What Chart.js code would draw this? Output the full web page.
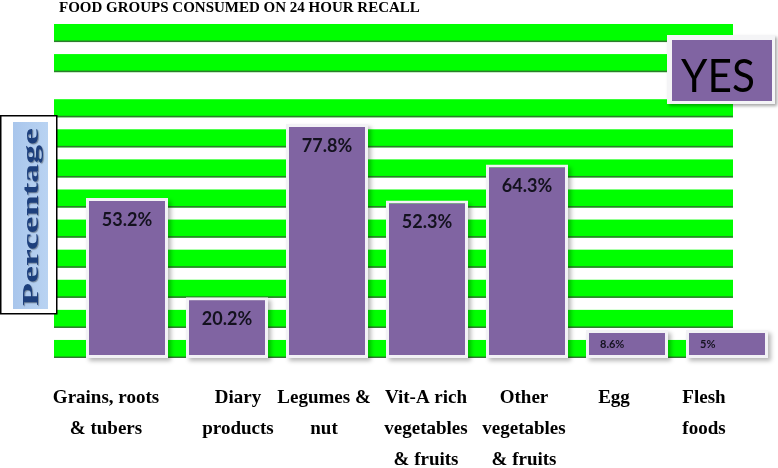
<!DOCTYPE html>
<html>
<head>
<meta charset="utf-8">
<script src="https://cdn.jsdelivr.net/npm/chart.js@4.4.0/dist/chart.umd.min.js"></script>
<style>
  html, body { margin: 0; padding: 0; background: #fff; }
  #wrap { width: 778px; height: 468px; position: relative; }
</style>
</head>
<body>
<div id="wrap"><canvas id="foodChart"></canvas></div>
<script>
const titleText = "FOOD GROUPS CONSUMED ON 24 HOUR RECALL";
const yTitle = "Percentage";
const seriesName = "YES";
const categories = [
  ["Grains, roots", "& tubers"],
  ["Diary", "products"],
  ["Legumes &", "nut"],
  ["Vit-A rich", "vegetables", "& fruits"],
  ["Other", "vegetables", "& fruits"],
  ["Egg"],
  ["Flesh", "foods"]
];
const yesValues = [53.2, 20.2, 77.8, 52.3, 64.3, 8.6, 5];

const purple = "#8064A2";
const green = "#00FF00";

// background stripes, bar shadows, value labels, category labels, title, y title, legend
const stripePlugin = {
  id: "stripes",
  beforeDatasetsDraw(chart) {
    const ctx = chart.ctx, y = chart.scales.y, area = chart.chartArea;
    const left = area.left - 23, right = area.right - 44;
    const starts = [0, 10, 20, 30, 40, 50, 60, 70, 80, 95, 105];
    ctx.save();
    starts.forEach(v => {
      const bottom = y.getPixelForValue(v);
      const top = y.getPixelForValue(v + 6);
      ctx.fillStyle = green;
      ctx.fillRect(left, top, right - left, bottom - top);
      ctx.fillStyle = "#2f7a2f";
      ctx.fillRect(left, bottom - 1.5, right - left, 1.5);
    });
    const meta = chart.getDatasetMeta(0);
    meta.data.forEach(bar => {
      const w = bar.width;
      ctx.fillStyle = "rgba(0,0,0,0.28)";
      ctx.filter = "blur(2px)";
      ctx.fillRect(bar.x - w / 2 + 3, bar.y + 3, w, bar.base - bar.y);
      ctx.filter = "none";
    });
    ctx.restore();
  },
  afterDatasetsDraw(chart) {
    const ctx = chart.ctx;
    const meta = chart.getDatasetMeta(0);
    ctx.save();
    ctx.fillStyle = "#14121f";
    meta.data.forEach((bar, i) => {
      const v = yesValues[i];
      ctx.textBaseline = "middle";
      if (v >= 10) {
        ctx.font = "bold 18px Lato";
        ctx.textAlign = "center";
        ctx.fillText(v + "%", bar.x, bar.y + 22);
      } else {
        ctx.font = "bold 11px Lato";
        ctx.textAlign = "left";
        ctx.fillText(v + "%", bar.x - bar.width / 2 + 14, (bar.y + bar.base) / 2);
      }
    });
    ctx.restore();
  },
  afterDraw(chart) {
    const ctx = chart.ctx;
    const xs = chart.scales.x;
    ctx.save();
    // category labels under the plot, nudged like the original layout
    const nudge = [-21, 11, -3, -1, -3, -13, -23];
    ctx.fillStyle = "#000";
    ctx.font = "bold 19px 'Liberation Serif'";
    ctx.textAlign = "center";
    ctx.textBaseline = "alphabetic";
    categories.forEach((lines, i) => {
      const cx = xs.getPixelForValue(i) + nudge[i];
      lines.forEach((t, j) => ctx.fillText(t, cx, xs.top + 45 + j * 31));
    });

    ctx.font = "bold 15px 'Liberation Serif'";
    ctx.textAlign = "left";
    ctx.fillText(titleText, 59, 12);

    // y axis title box
    ctx.fillStyle = "#fff";
    ctx.fillRect(0, 115, 57, 199);
    ctx.strokeStyle = "#000";
    ctx.lineWidth = 1.5;
    ctx.strokeRect(0.75, 115.75, 56, 198);
    const grad = ctx.createLinearGradient(13, 0, 48, 0);
    grad.addColorStop(0, "#a9c6ec");
    grad.addColorStop(1, "#b9d3f2");
    ctx.fillStyle = grad;
    ctx.fillRect(13, 122, 35, 187);
    ctx.translate(31, 217);
    ctx.rotate(-Math.PI / 2);
    ctx.font = "bold 23px 'Liberation Serif'";
    const tw = ctx.measureText(yTitle).width;
    ctx.scale(178 / tw, 1);
    ctx.textAlign = "center";
    ctx.textBaseline = "middle";
    ctx.shadowColor = "rgba(0,0,0,0.35)";
    ctx.shadowOffsetX = 1;
    ctx.shadowOffsetY = 1;
    ctx.shadowBlur = 1;
    ctx.fillStyle = "#1d3f7c";
    ctx.fillText(yTitle, 0, 1);
    ctx.restore();

    // legend box
    ctx.save();
    ctx.shadowColor = "rgba(0,0,0,0.35)";
    ctx.shadowOffsetX = 2;
    ctx.shadowOffsetY = 2;
    ctx.shadowBlur = 3;
    ctx.fillStyle = "#f4f4f6";
    ctx.fillRect(667, 35, 108, 69);
    ctx.restore();
    ctx.save();
    ctx.fillStyle = purple;
    ctx.fillRect(672, 40, 100, 61);
    ctx.fillStyle = "#000";
    ctx.font = "47px Lato";
    ctx.textAlign = "center";
    ctx.textBaseline = "alphabetic";
    ctx.translate(718, 92);
    ctx.scale(0.9, 1);
    ctx.fillText(chart.data.datasets[0].label, 0, 0);
    ctx.restore();
  }
};

new Chart(document.getElementById("foodChart"), {
  type: "bar",
  data: {
    labels: categories,
    datasets: [{
      label: seriesName,
      data: yesValues,
      backgroundColor: purple,
      borderColor: "#f2f2f5",
      borderWidth: 3,
      borderSkipped: false,
      barPercentage: 0.82,
      categoryPercentage: 1,
      minBarLength: 28
    }]
  },
  options: {
    responsive: true,
    maintainAspectRatio: false,
    animation: false,
    layout: { padding: { left: 77, right: 1, top: 27, bottom: 0 } },
    plugins: {
      legend: { display: false },
      tooltip: { enabled: false },
      title: { display: false }
    },
    scales: {
      x: {
        grid: { display: false },
        border: { display: false },
        afterFit(scale) { scale.height = 110; },
        ticks: { display: false }
      },
      y: {
        display: false,
        min: 0,
        max: 110
      }
    }
  },
  plugins: [stripePlugin]
});
</script>
</body>
</html>
